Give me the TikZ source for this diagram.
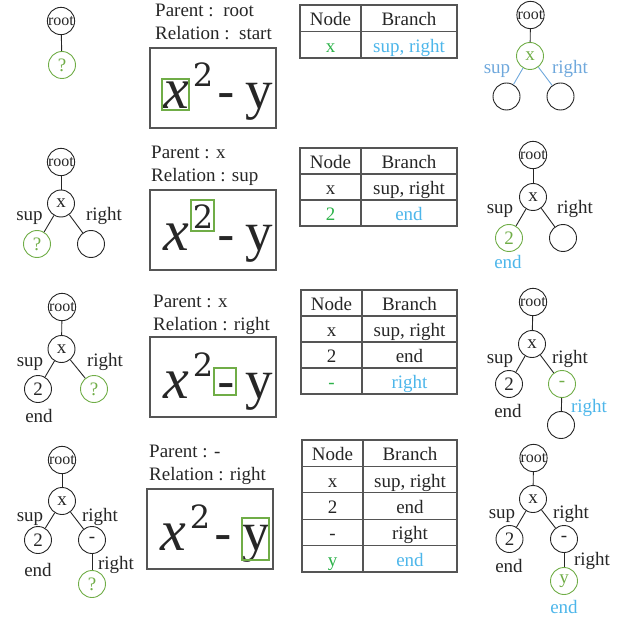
\documentclass[tikz,border=0pt]{standalone}
\usepackage{fontspec}
\setmainfont{Liberation Serif}
\newfontfamily\exprfont{DejaVu Serif}
\usetikzlibrary{calc}

\definecolor{ink}{HTML}{262626}
\definecolor{rule}{HTML}{555555}
\definecolor{hl}{HTML}{70AD47}
\definecolor{tgreen}{HTML}{2DB24A}
\definecolor{tblue}{HTML}{4DB6EA}
\definecolor{lblue}{HTML}{6FA8DC}

\tikzset{
  tn/.style={circle, draw=ink, line width=0.9pt, minimum size=27pt, inner sep=0pt,
    text=ink, font=\fontsize{19}{19}\selectfont},
  rootn/.style={tn, font=\fontsize{16}{16}\selectfont},
  cur/.style={draw=hl, text=hl},
  lbl/.style={anchor=base, inner sep=0pt, text=ink, font=\fontsize{19}{19}\selectfont},
  edge/.style={draw=ink, line width=0.9pt},
  cell/.style={rectangle, draw=rule, line width=1.3pt, anchor=north west, inner sep=0pt,
    outer sep=0pt, minimum height=26pt, text height=15pt, text depth=0pt,
    font=\fontsize{19}{19}\selectfont},
  caption/.style={anchor=base west, inner sep=0pt, text=ink, font=\fontsize{19}{19}\selectfont},
  frame/.style={rectangle, draw=rule, line width=1.3pt, anchor=north west, outer sep=0pt,
    minimum width=126pt, minimum height=80pt, inner sep=0pt},
  glyph/.style={anchor=base, inner sep=0pt, text=ink},
  glow/.style={draw=hl, line width=1.3pt},
}

% the expression x^2 - y inside its frame; #1 name, (#2,#3) top-left corner
\newcommand\formula[3]{%
  \begin{scope}[shift={(#2,#3)}]
    \node[frame] (#1) at (0,0) {};
    \node[glyph, font=\fontsize{58}{58}\selectfont\itshape] (#1x) at (26,61) {x};
    \node[glyph, font=\exprfont\fontsize{32}{32}\selectfont] (#1s) at (53,39) {2};
    \node[glyph, font=\exprfont\fontsize{52}{52}\selectfont] (#1m) at (76,62) {-};
    \node[glyph, font=\fontsize{55}{55}\selectfont] (#1y) at (109.5,61) {y};
  \end{scope}}

% one table row: name, x0, xmid, x1, ytop, left text, right text, left colour, right colour
\newcommand\trow[9]{%
  \node[cell, minimum width=#3-#2, text=#8] (#1l) at (#2,#5) {#6};
  \node[cell, minimum width=#4-#3, text=#9] (#1r) at (#3,#5) {#7};}

\begin{document}
\begin{tikzpicture}[x=1pt, y=-1pt]
\useasboundingbox (0,0) rectangle (623,620);

%% ---------------- step 1 ----------------
\node[rootn] (r1a) at (61,21) {root};
\node[tn, cur] (q1a) at (62,65) {?};
\draw[edge] (r1a) -- (q1a);

\node[caption] (p1) at (155,17) {Parent :~~root};
\node[caption] (c1) at (155,40) {Relation :~~start};
\formula{f1}{150}{48}
\draw[glow] (162,79) rectangle (189,110);

\begin{scope}[cell/.append style={minimum height=26.5pt}]
\trow{t1h}{300}{361}{457}{5}{Node}{Branch}{ink}{ink}
\trow{t1a}{300}{361}{457}{31.5}{x}{sup, right}{tgreen}{tblue}
\end{scope}

\node[rootn] (r1b) at (530.5,15) {root};
\node[tn, cur] (x1b) at (530,56) {x};
\node[tn] (s1b) at (506.5,96.5) {};
\node[tn] (t1b) at (560.5,96.5) {};
\draw[edge] (r1b) -- (x1b);
\draw[edge, draw=lblue] (x1b) -- (s1b);
\draw[edge, draw=lblue] (x1b) -- (t1b);
\node[lbl, text=lblue] (ls1b) at (497,74) {sup};
\node[lbl, text=lblue] (lt1b) at (570,74) {right};

%% ---------------- step 2 ----------------
\node[rootn] (r2a) at (61,162) {root};
\node[tn] (x2a) at (61,203.5) {x};
\node[tn, cur] (q2a) at (37,244) {?};
\node[tn] (t2a) at (91,244) {};
\draw[edge] (r2a) -- (x2a);
\draw[edge] (x2a) -- (q2a);
\draw[edge] (x2a) -- (t2a);
\node[lbl] (ls2a) at (29.5,221) {sup};
\node[lbl] (lt2a) at (104,221) {right};

\node[caption] (p2) at (151,159) {Parent : x};
\node[caption] (c2) at (151,182) {Relation : sup};
\formula{f2}{150}{190}
\draw[glow] (191,200) rectangle (214,231);

\begin{scope}[cell/.append style={minimum height=26pt}]
\trow{t2h}{300}{361}{457}{148}{Node}{Branch}{ink}{ink}
\trow{t2a}{300}{361}{457}{174}{x}{sup, right}{ink}{ink}
\trow{t2b}{300}{361}{457}{200}{2}{end}{tgreen}{tblue}
\end{scope}

\node[rootn] (r2b) at (533,155) {root};
\node[tn] (x2b) at (533,197) {x};
\node[tn, cur] (n2b) at (509,238) {2};
\node[tn] (t2b) at (563,238) {};
\draw[edge] (r2b) -- (x2b);
\draw[edge] (x2b) -- (n2b);
\draw[edge] (x2b) -- (t2b);
\node[lbl] (ls2b) at (500,214) {sup};
\node[lbl] (lt2b) at (575,214) {right};
\node[lbl, text=tblue] (le2b) at (508,268) {end};

%% ---------------- step 3 ----------------
\node[rootn] (r3a) at (62,307) {root};
\node[tn] (x3a) at (61.5,349) {x};
\node[tn] (n3a) at (38,389) {2};
\node[tn, cur] (q3a) at (94,389) {?};
\draw[edge] (r3a) -- (x3a);
\draw[edge] (x3a) -- (n3a);
\draw[edge] (x3a) -- (q3a);
\node[lbl] (ls3a) at (30,366) {sup};
\node[lbl] (lt3a) at (105,366) {right};
\node[lbl] (le3a) at (39,422) {end};

\node[caption] (p3) at (153,307) {Parent : x};
\node[caption] (c3) at (153,330) {Relation : right};
\formula{f3}{150}{337}
\draw[glow] (214,368) rectangle (236,395);

\begin{scope}[cell/.append style={minimum height=26pt}]
\trow{t3h}{301}{362}{457}{290}{Node}{Branch}{ink}{ink}
\trow{t3a}{301}{362}{457}{316}{x}{sup, right}{ink}{ink}
\trow{t3b}{301}{362}{457}{342}{2}{end}{ink}{ink}
\trow{t3c}{301}{362}{457}{368}{-}{right}{tgreen}{tblue}
\end{scope}

\node[rootn] (r3b) at (533,302) {root};
\node[tn] (x3b) at (532,344) {x};
\node[tn] (n3b) at (509,384) {2};
\node[tn, cur] (m3b) at (562,384) {-};
\node[tn] (e3b) at (561,425) {};
\draw[edge] (r3b) -- (x3b);
\draw[edge] (x3b) -- (n3b);
\draw[edge] (x3b) -- (m3b);
\draw[edge] (m3b) -- (e3b);
\node[lbl] (ls3b) at (500,363) {sup};
\node[lbl] (lt3b) at (570,363) {right};
\node[lbl, text=tblue] (lr3b) at (589,412) {right};
\node[lbl] (le3b) at (508,417) {end};

%% ---------------- step 4 ----------------
\node[rootn] (r4a) at (62,460) {root};
\node[tn] (x4a) at (62,501) {x};
\node[tn] (n4a) at (38,540) {2};
\node[tn] (m4a) at (92,540) {-};
\node[tn, cur] (q4a) at (92,584) {?};
\draw[edge] (r4a) -- (x4a);
\draw[edge] (x4a) -- (n4a);
\draw[edge] (x4a) -- (m4a);
\draw[edge] (m4a) -- (q4a);
\node[lbl] (ls4a) at (30,521) {sup};
\node[lbl] (lt4a) at (100,521) {right};
\node[lbl] (lr4a) at (116,569) {right};
\node[lbl] (le4a) at (38,576) {end};

\node[caption] (p4) at (149,457) {Parent : -};
\node[caption] (c4) at (149,480) {Relation : right};
\formula{f4}{147}{489}
\draw[glow] (242,518) rectangle (269,560);

\begin{scope}[cell/.append style={minimum height=26.4pt}]
\trow{t4h}{302}{363}{457}{440}{Node}{Branch}{ink}{ink}
\trow{t4a}{302}{363}{457}{466.4}{x}{sup, right}{ink}{ink}
\trow{t4b}{302}{363}{457}{492.8}{2}{end}{ink}{ink}
\trow{t4c}{302}{363}{457}{519.2}{-}{right}{ink}{ink}
\trow{t4d}{302}{363}{457}{545.6}{y}{end}{tgreen}{tblue}
\end{scope}

\node[rootn] (r4b) at (533.5,458) {root};
\node[tn] (x4b) at (533,499) {x};
\node[tn] (n4b) at (509.5,539) {2};
\node[tn] (m4b) at (564,539) {-};
\node[tn, cur] (y4b) at (564,581) {y};
\draw[edge] (r4b) -- (x4b);
\draw[edge] (x4b) -- (n4b);
\draw[edge] (x4b) -- (m4b);
\draw[edge] (m4b) -- (y4b);
\node[lbl] (ls4b) at (502,518) {sup};
\node[lbl] (lt4b) at (571,518) {right};
\node[lbl] (lr4b) at (592,565) {right};
\node[lbl] (le4b) at (509,572) {end};
\node[lbl, text=tblue] (lf4b) at (564,613) {end};
\end{tikzpicture}
\end{document}
